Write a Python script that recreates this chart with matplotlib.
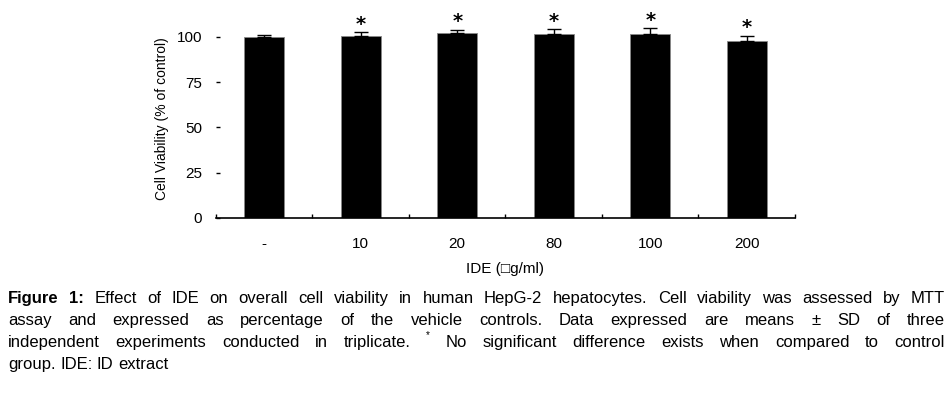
import matplotlib
matplotlib.use("Agg")
import matplotlib.pyplot as plt
import numpy as np

# datos
categories = ['-', '10', '20', '80', '100', '200']
viability = [99.6, 100.4, 102.0, 101.7, 101.7, 97.6]
sd = [1.5, 2.0, 1.7, 2.4, 3.0, 3.0]
marked = [False, True, True, True, True, True]
yticks = [0, 25, 50, 75, 100]

caption_lines = [
    [("Figure", 'bold'), ("1:", 'bold'), "Effect", "of", "IDE", "on", "overall", "cell", "viability",
     "in", "human", "HepG-2", "hepatocytes.", "Cell", "viability", "was", "assessed", "by", "MTT"],
    ["assay", "and", "expressed", "as", "percentage", "of", "the", "vehicle", "controls.", "Data",
     "expressed", "are", "means", "±", "SD", "of", "three"],
    ["independent", "experiments", "conducted", "in", "triplicate.", ("*", 'sup'), "No", "significant",
     "difference", "exists", "when", "compared", "to", "control"],
    ["group.", "IDE:", "ID", "extract"],
]

FONT = ['Liberation Sans Narrow', 'Liberation Sans', 'DejaVu Sans']
plt.rcParams['font.family'] = FONT

W, H = 953, 393
fig = plt.figure(figsize=(W / 100, H / 100), dpi=100)

# ejes: x de 216 a 795 px, y=0 en 218 px
ymax = 110
x0, x1, y0 = 216, 795, 218
ytop = y0 - ymax * 1.813
ax = fig.add_axes([x0 / W, 1 - y0 / H, (x1 - x0) / W, (y0 - ytop) / H])

x = np.arange(len(categories))
ax.bar(x, viability, width=0.41, color='black', edgecolor='#888888', linewidth=0.6, zorder=2)
ax.errorbar(x, viability, yerr=[np.zeros(len(sd)), sd], fmt='none', ecolor='black',
            elinewidth=1, capsize=5, capthick=1, zorder=3)

for xi, v, s, m in zip(x, viability, sd, marked):
    if m:
        ax.annotate('*', (xi, v + s), xytext=(0, -1), textcoords='offset points',
                    ha='center', va='bottom', fontsize=14, fontweight='bold',
                    family='DejaVu Sans', annotation_clip=False)

ax.set_xlim(-0.5, len(categories) - 0.5)
ax.set_ylim(0, ymax)
for sp in ['top', 'right', 'left']:
    ax.spines[sp].set_visible(False)
ax.spines['bottom'].set_linewidth(1.2)

ax.set_xticks(x)
ax.set_xticklabels(categories, fontsize=11)
ax.set_xticks(np.arange(-0.5, len(categories)), minor=True)
ax.tick_params(axis='x', which='major', length=0, pad=14)
ax.tick_params(axis='x', which='minor', direction='in', length=3, width=1)

ax.set_yticks(yticks)
ax.set_yticklabels([str(t) for t in yticks], fontsize=11)
ax.tick_params(axis='y', direction='in', length=3, width=1, pad=10)

ax.set_ylabel('Cell Viability (% of control)', fontsize=10)
ax.yaxis.set_label_coords((169 - x0) / (x1 - x0), 0.5)
ax.set_xlabel('IDE (□g/ml)', fontsize=11)
ax.xaxis.set_label_coords(0.5, -(262 - y0) / (y0 - ytop))

# pie de figura justificado
fig.canvas.draw()
renderer = fig.canvas.get_renderer()
left, right = 8, 945
line_base = [303, 325, 347, 369]
cap_size = 12


def measure(word, size, weight):
    t = fig.text(0, 0, word, fontsize=size, fontweight=weight)
    w = t.get_window_extent(renderer).width
    t.remove()
    return w


def tokens(line):
    out = []
    for tok in line:
        if isinstance(tok, tuple):
            word, kind = tok
        else:
            word, kind = tok, 'normal'
        out.append((word, kind))
    return out


# reducir la letra si la linea mas larga no cabe
size = cap_size
while size > 7:
    widest = 0
    for line in caption_lines[:3]:
        toks = tokens(line)
        tot = sum(measure(w, size * (0.6 if k == 'sup' else 1), 'bold' if k == 'bold' else 'normal')
                  for w, k in toks)
        widest = max(widest, tot + 3.0 * (len(toks) - 1))
    if widest <= right - left:
        break
    size -= 0.25

space_w = measure('a a', size, 'normal') - measure('aa', size, 'normal')

for i, line in enumerate(caption_lines):
    toks = tokens(line)
    sizes = [size * (0.6 if k == 'sup' else 1) for w, k in toks]
    weights = ['bold' if k == 'bold' else 'normal' for w, k in toks]
    widths = [measure(w, s, wt) for (w, k), s, wt in zip(toks, sizes, weights)]
    justify = i < len(caption_lines) - 1
    gap = (right - left - sum(widths)) / (len(toks) - 1) if justify else space_w
    xpos = left
    for (w, k), s, wt, wd in zip(toks, sizes, weights, widths):
        yy = line_base[i] - (9 if k == 'sup' else 0)
        fig.text(xpos / W, 1 - yy / H, w, fontsize=s, fontweight=wt, va='baseline', ha='left')
        xpos += wd + gap

fig.savefig('out.png', dpi=100)
